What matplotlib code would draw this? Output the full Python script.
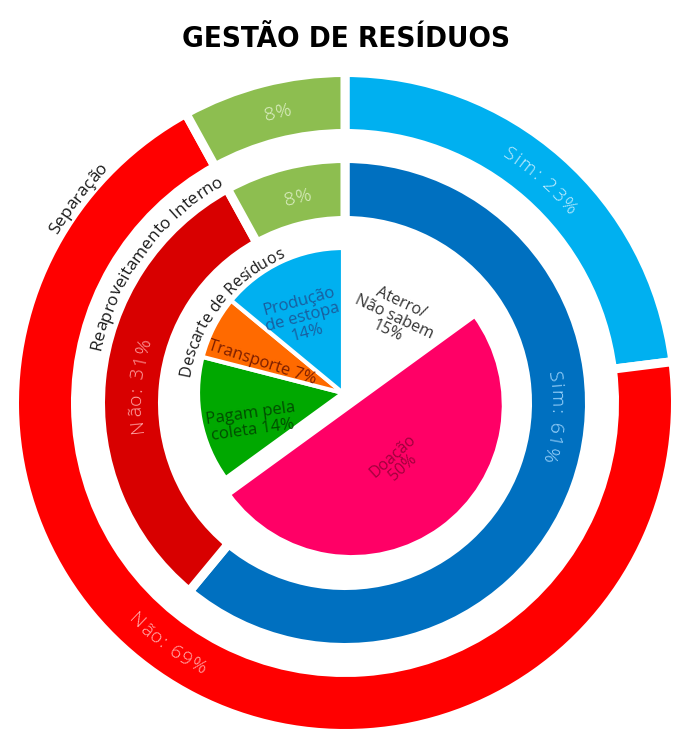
import os
import numpy as np
import matplotlib
matplotlib.use("Agg")
import matplotlib.pyplot as plt
from matplotlib import font_manager as fm
from matplotlib.font_manager import FontProperties
from matplotlib.textpath import TextToPath

# data
separacao_lab = ["Sim: 23%", "Não: 69%", "8%"]
separacao = [23, 69, 8]
reaprov_lab = ["Sim: 61%", "Não: 31%", "8%"]
reaprov = [61, 31, 8]
descarte_lab = ["Aterro/\nNão sabem\n15%", "Doação\n50%", "Pagam pela\ncoleta 14%",
                "Transporte 7%", "Produção\nde estopa\n14%"]
descarte = [15, 50, 14, 7, 14]

DPI = 100
BODY = ["Open Sans", "DejaVu Sans"]
t2p = TextToPath()

fig = plt.figure(figsize=(6.83, 7.39), dpi=DPI)
ax = fig.add_axes([0, 0, 1, 1])


def char_w(ch, fp):
    a = t2p.get_text_width_height_descent("x" + ch + "x", fp, ismath=False)[0]
    b = t2p.get_text_width_height_descent("xx", fp, ismath=False)[0]
    return (a - b) * DPI / 72


def arc_text(s, r, ang, size, color, cw=True, cx=0, cy=0, track=0.0,
             family=BODY, weight="normal"):
    fp = FontProperties(family=family, size=size, weight=weight)
    ws = [char_w(c, fp) + track for c in s]
    total = sum(ws) - track
    sgn = -1 if cw else 1
    # baseline radius: letters' tops point away from centre when cw
    rb = r - 0.35 * size * DPI / 72 if cw else r + 0.35 * size * DPI / 72
    a0 = ang - sgn * np.degrees(total / 2 / rb)
    pos = 0.0
    for c, w in zip(s, ws):
        a = a0 + sgn * np.degrees((pos + (w - track) / 2) / rb)
        t = np.radians(a)
        rot = a - 90 if cw else a + 90
        ax.text(cx + rb * np.cos(t), cy + rb * np.sin(t), c, rotation=rot,
                rotation_mode="anchor", ha="center", va="baseline",
                fontsize=size, color=color, family=family, weight=weight)
        pos += w


def title_font():
    # look for a bold condensed face, else plain bold
    order = {"ultra-condensed": 0, "extra-condensed": 1, "condensed": 2, "semi-condensed": 3}
    best = None
    for f in fm.fontManager.ttflist:
        if "CJK" in f.name or "Mono" in f.name or "Serif" in f.name:
            continue
        w = f.weight if isinstance(f.weight, int) else (700 if "bold" in str(f.weight).lower() else 400)
        st = str(f.stretch).lower()
        base = os.path.basename(f.fname).lower()
        narrow = st in order or "condensed" in base or "narrow" in base
        if w >= 700 and narrow and "italic" not in base and "oblique" not in base:
            k = (order.get(st, 2), abs(w - 700))
            if best is None or k < best[0]:
                best = (k, f.fname)
    if best:
        return FontProperties(fname=best[1])
    return FontProperties(family="DejaVu Sans", weight="bold")


gap = 6.5
# outer ring: Separação
ax.pie(separacao, radius=330.5, startangle=90, counterclock=False,
       colors=["#00B0F0", "#FF0000", "#8DBE50"],
       wedgeprops=dict(width=61, edgecolor="white", linewidth=gap))
# middle ring: Reaproveitamento Interno
ax.pie(reaprov, radius=244.5, startangle=90, counterclock=False,
       colors=["#0070C0", "#D80000", "#8DBE50"],
       wedgeprops=dict(edgecolor="white", width=62, linewidth=gap))
# inner pie: Descarte de Resíduos
pc = (-2, 10)
wedges, _ = ax.pie(descarte, radius=145, center=pc, startangle=90, counterclock=False,
                   explode=[0, 15, 0, 0, 0],
                   colors=["#FFFFFF", "#FF0066", "#00A800", "#FF6A00", "#00B0F0"],
                   wedgeprops=dict(edgecolor="white", linewidth=3))
wedges[1].set_radius(152)

# ring value labels
arc_text(separacao_lab[0], 299, 48.7, 14, "#C8EEFF", cw=True, track=1.5, weight="light")
arc_text(separacao_lab[1], 300, 233.7, 14, "#FFB4B4", cw=False, track=1.5, weight="light")
arc_text(separacao_lab[2], 300, 103, 14, "#E2F2CC", cw=True, weight="light")
arc_text(reaprov_lab[0], 212, -4, 14, "#A8DAFF", cw=True, track=1.5, weight="light")
arc_text(reaprov_lab[1], 211, 175, 14, "#FFA8A8", cw=True, track=1.5, weight="light")
arc_text(reaprov_lab[2], 212, 103, 14, "#E2F2CC", cw=True, weight="light")

# curved group names
arc_text("Separação", 339, 142.5, 12.5, "#1A1A1A", cw=True)
arc_text("Reaproveitamento Interno", 256, 143.5, 12.5, "#1A1A1A", cw=True)
arc_text("Descarte de Resíduos", 163, 141.5, 11.5, "#1A1A1A", cw=True)

# inner labels
lab_xy = [(49, 86), (53, -59), (-93, -19), (-83, 40), (-42, 86)]
lab_rot = [-25, 42, 8, -18, 15]
lab_col = ["#333333", "#A0003C", "#004D00", "#7B1E00", "#1A5E9E"]
lab_size = [11.5, 11.5, 12, 12, 12]
for s, (x, y), rot, col, fs in zip(descarte_lab, lab_xy, lab_rot, lab_col, lab_size):
    ax.text(x, y, s, rotation=rot, ha="center", va="center", multialignment="center",
            fontsize=fs, color=col, family=BODY, linespacing=1.0,
            rotation_mode="anchor")

# title, sized to the reference width
tfp = title_font()
tw = t2p.get_text_width_height_descent("GESTÃO DE RESÍDUOS", tfp.copy(), ismath=False)[0]
tfp.set_size(min(28.0, 12.0 * 328 / (tw * DPI / 72 * 12.0 / tfp.get_size())))
ax.text(1, 356, "GESTÃO DE RESÍDUOS", ha="center", va="baseline",
        fontproperties=tfp, color="black")

ax.set_xlim(-345, 338)
ax.set_ylim(-336, 403)
ax.set_aspect("equal")
ax.axis("off")
fig.savefig("out.png", dpi=DPI)
